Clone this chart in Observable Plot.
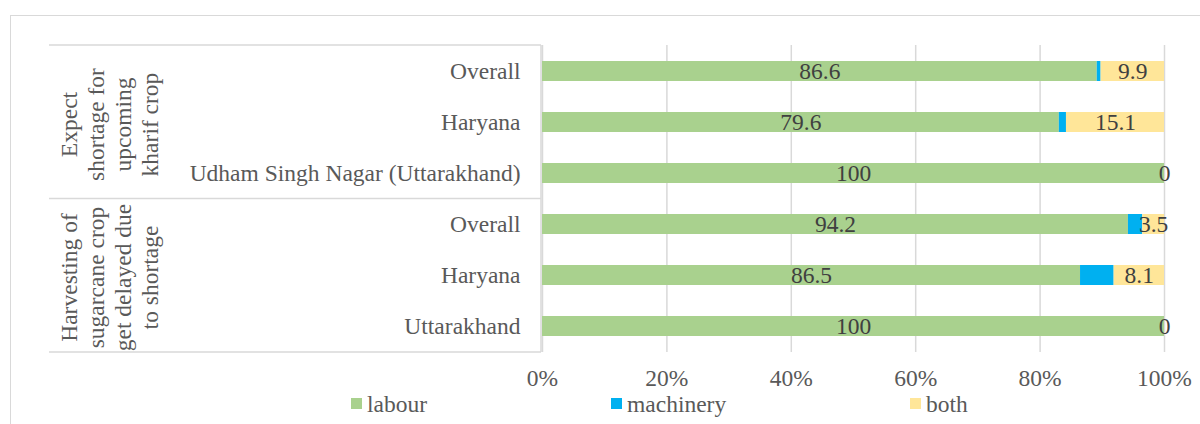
<!DOCTYPE html>
<html>
<head>
<meta charset="utf-8">
<script src="https://cdn.jsdelivr.net/npm/d3@7"></script>
<script src="https://cdn.jsdelivr.net/npm/@observablehq/plot@0.6"></script>
<style>
  html, body { margin: 0; padding: 0; background: #fff; overflow: hidden; width: 1200px; height: 424px; }
  #frame { position: absolute; left: 10px; top: 15px; width: 1300px; height: 500px; border: 1.5px solid #d9d9d9; box-sizing: border-box; }
  #chart { position: absolute; left: 0; top: 0; }
  #legend { position: absolute; left: 0; top: 392px; width: 1200px; height: 32px; font-family: "Liberation Serif", "Times New Roman", serif; font-size: 23.5px; color: #595959; }
  .item { position: absolute; top: 0; height: 32px; }
  .sw { position: absolute; top: 6px; width: 11px; height: 11px; }
  .lab { position: absolute; top: 0px; left: 16px; white-space: nowrap; line-height: 24px; }
</style>
</head>
<body>
<div id="frame"></div>
<div id="chart"></div>
<div id="legend"></div>
<script>
// ---- data ----
const rowIds = ["g1-overall", "g1-haryana", "g1-udham", "g2-overall", "g2-haryana", "g2-uttarakhand"];
const rowLabels = ["Overall", "Haryana", "Udham Singh Nagar (Uttarakhand)", "Overall", "Haryana", "Uttarakhand"];
const groupLabels = ["Expect\nshortage for\nupcoming\nkharif crop", "Harvesting of\nsugarcane crop\nget delayed due\nto shortage"];
const groupMiddleRow = ["g1-haryana", "g2-haryana"];
const series = ["labour", "machinery", "both"];
const labour = [86.6, 79.6, 100, 94.2, 86.5, 100];
const machinery = [0.6, 1.1, 0, 2.3, 5.4, 0];
const both = [9.9, 15.1, 0, 3.5, 8.1, 0];
const colors = ["#A9D18E", "#00B0F0", "#FFE699"];
const xTicks = [0, 0.2, 0.4, 0.6, 0.8, 1];

const values = {labour, machinery, both};
const data = [];
rowIds.forEach((r, i) => series.forEach(s => data.push({row: r, series: s, value: values[s][i]})));
const labelOf = new Map(rowIds.map((r, i) => [r, rowLabels[i]]));

const W = 1200, H = 392, mL = 542, mR = 36, mT = 45, mB = 40;
const font = "'Liberation Serif', 'Times New Roman', serif";
const FS = 23.5;

const plot = Plot.plot({
  width: W, height: H,
  marginLeft: mL, marginRight: mR, marginTop: mT, marginBottom: mB,
  style: {fontFamily: font, fontSize: FS + "px", color: "#595959", background: "transparent"},
  x: {domain: [0, 1], ticks: xTicks, tickFormat: d3.format(".0%")},
  y: {domain: rowIds, padding: 0.61, paddingOuter: 0.305},
  color: {domain: series, range: colors},
  marks: [
    Plot.gridX(xTicks, {stroke: "#d9d9d9", strokeOpacity: 1, strokeWidth: 1.5}),
    Plot.barX(data, Plot.stackX({x: "value", y: "row", fill: "series", offset: "normalize"})),
    Plot.text(data, Plot.stackX({
      x: "value", y: "row", z: "series", offset: "normalize",
      text: d => d.series === "machinery" ? null : String(d.value),
      fill: "#404040", fontSize: FS
    })),
    Plot.text(groupLabels, {
      text: d => d, y: (d, i) => groupMiddleRow[i], frameAnchor: "left", dx: -434, dy: 2,
      rotate: -90, textAnchor: "middle", lineAnchor: "middle", lineHeight: 1.15,
      fill: "#595959", fontSize: FS
    }),
    Plot.axisX({ticks: xTicks, tickSize: 0, tickPadding: 17, tickFormat: d3.format(".0%"), label: null, fontSize: FS}),
    Plot.axisY({tickSize: 0, tickPadding: 22, tickFormat: r => labelOf.get(r), label: null, fontSize: FS})
  ]
});
document.getElementById("chart").appendChild(plot);

// table borders around the category area
const svg = d3.select(plot);
const bottom = H - mB;
const step = (bottom - mT) / rowIds.length;
const lineG = svg.insert("g", ":first-child").attr("stroke", "#d9d9d9").attr("stroke-width", 1.5);
[mT, mT + 3 * step, bottom].forEach(y => {
  lineG.append("line").attr("x1", 49).attr("x2", mL - 1).attr("y1", y).attr("y2", y);
});
lineG.append("line").attr("x1", mL - 1).attr("x2", mL - 1).attr("y1", mT).attr("y2", bottom);

// legend
const legendX = [351, 611, 910];
const legend = document.getElementById("legend");
series.forEach((s, i) => {
  const it = document.createElement("div");
  it.className = "item";
  it.style.left = legendX[i] + "px";
  it.innerHTML = `<div class="sw" style="background:${colors[i]}"></div><div class="lab">${s}</div>`;
  legend.appendChild(it);
});
</script>
</body>
</html>
